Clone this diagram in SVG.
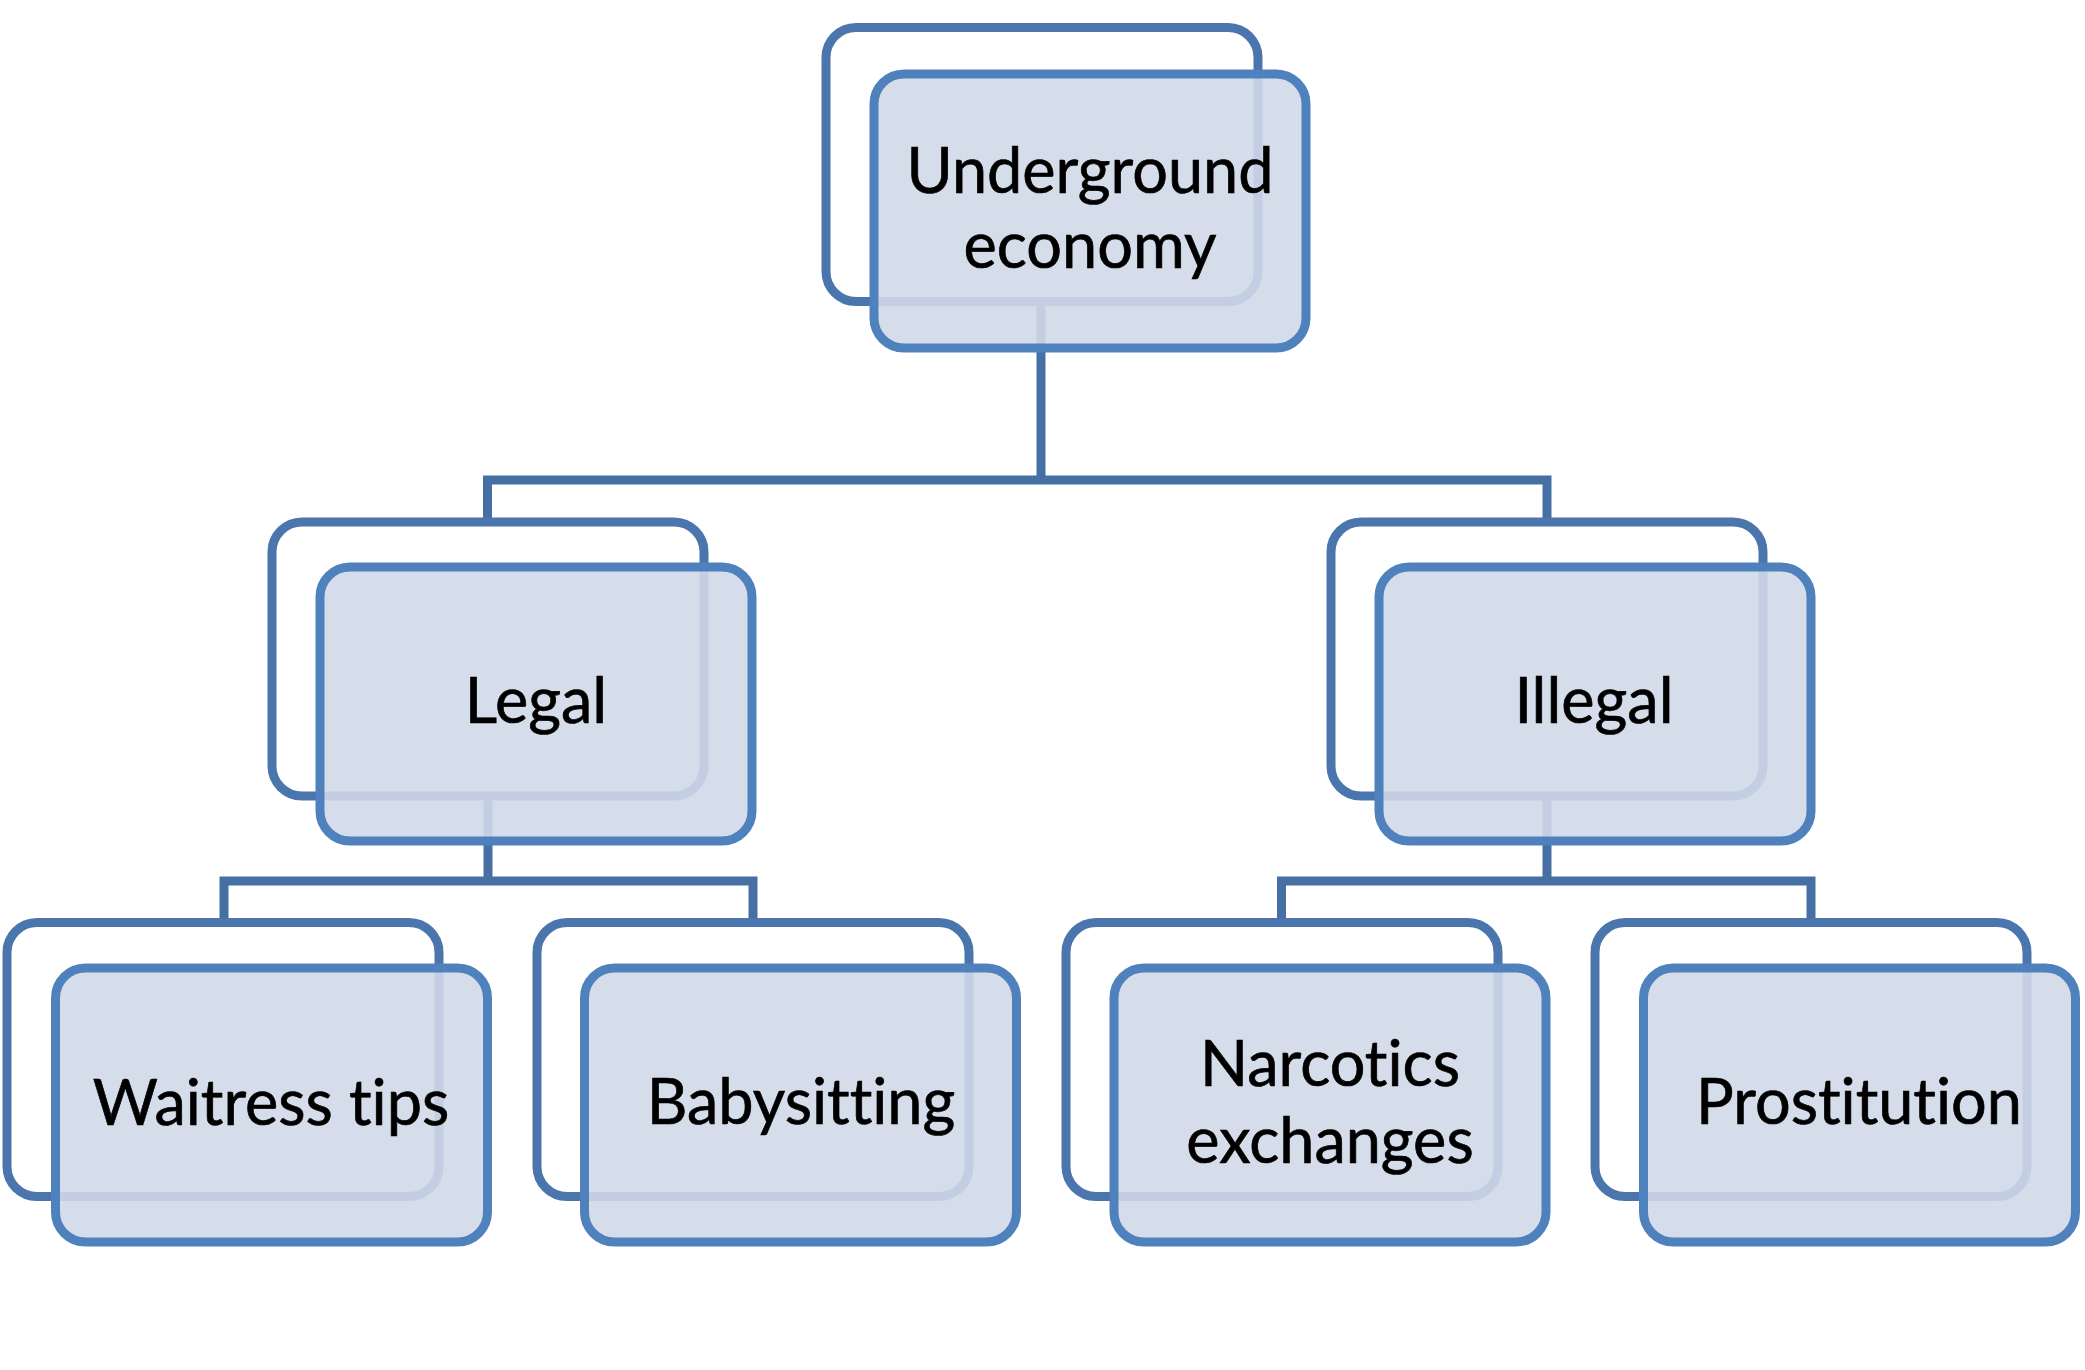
<svg xmlns="http://www.w3.org/2000/svg" width="2085" height="1370" viewBox="0 0 2085 1370">
<defs>
<style>
.back{fill:none;stroke:#4a76ad;stroke-width:9}
.front{fill:rgb(208,216,232);fill-opacity:0.9;stroke:#4f81bd;stroke-width:9}
.conn{fill:none;stroke:#4670a4;stroke-width:9;stroke-linejoin:miter}
.lbl{font-family:Lato,"Liberation Sans",sans-serif;font-size:63px;fill:#000;stroke:#000;stroke-width:0.7;text-anchor:middle;font-variant-ligatures:none;font-feature-settings:"liga" 0,"clig" 0}
</style>
</defs>
<rect width="2085" height="1370" fill="#fff"/>
<g id="connectors">
<path class="conn" d="M1041,301 V480 M487.5,526 V480 H1547 V526"/>
<path class="conn" d="M488,795 V881 M224,926 V881 H753 V926"/>
<path class="conn" d="M1547,795 V881 M1281.5,926 V881 H1811 V926"/>
</g>
<g id="node-underground">
<rect class="back" x="826" y="27.5" width="432" height="274" rx="30"/>
<rect class="front" x="874" y="74" width="432" height="274" rx="30"/>
<text class="lbl" x="1090" y="193">Underground</text>
<text class="lbl" x="1090" y="268">economy</text>
</g>
<g id="node-legal">
<rect class="back" x="272" y="522" width="432" height="274" rx="30"/>
<rect class="front" x="320" y="567" width="432" height="274" rx="30"/>
<text class="lbl" x="536" y="723">Legal</text>
</g>
<g id="node-illegal">
<rect class="back" x="1331" y="522" width="432" height="274" rx="30"/>
<rect class="front" x="1379" y="567" width="432" height="274" rx="30"/>
<text class="lbl" x="1594" y="723">Illegal</text>
</g>
<g id="node-waitress">
<rect class="back" x="7" y="922.5" width="432" height="274" rx="30"/>
<rect class="front" x="55.5" y="968" width="432" height="274" rx="30"/>
<text class="lbl" x="271" y="1125">Waitress tips</text>
</g>
<g id="node-babysitting">
<rect class="back" x="537" y="922.5" width="432" height="274" rx="30"/>
<rect class="front" x="584.5" y="968" width="432" height="274" rx="30"/>
<text class="lbl" x="801" y="1124">Babysitting</text>
</g>
<g id="node-narcotics">
<rect class="back" x="1066" y="922.5" width="432" height="274" rx="30"/>
<rect class="front" x="1114" y="968" width="432" height="274" rx="30"/>
<text class="lbl" x="1330" y="1086">Narcotics</text>
<text class="lbl" x="1330" y="1163">exchanges</text>
</g>
<g id="node-prostitution">
<rect class="back" x="1595" y="922.5" width="432" height="274" rx="30"/>
<rect class="front" x="1643.5" y="968" width="432" height="274" rx="30"/>
<text class="lbl" x="1859" y="1124">Prostitution</text>
</g>
</svg>
